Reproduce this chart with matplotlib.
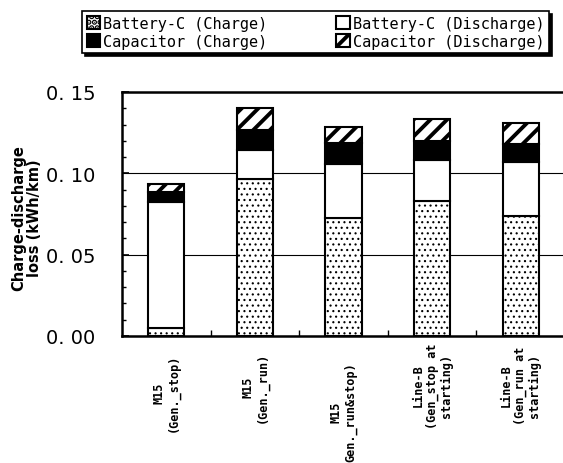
import matplotlib
matplotlib.use("Agg")
import matplotlib.pyplot as plt
import numpy as np
from matplotlib.ticker import MultipleLocator, FixedLocator

# Categories and stacked loss components (kWh/km)
categories = ["M15\n(Gen._stop)", "M15\n(Gen._run)", "M15\nGen._run&stop)",
              "Line-B\n(Gen_stop at\nstarting)", "Line-B\n(Gen_run at\nstarting)"]
label_centers = [393, 387, 412, 386, 386]  # pixel y centre of each rotated label
battery_charge = [0.005, 0.0967, 0.0723, 0.0830, 0.0735]
battery_discharge = [0.0771, 0.0176, 0.0336, 0.0252, 0.0336]
cap_charge = [0.0066, 0.0125, 0.0126, 0.0119, 0.0107]
cap_discharge = [0.0049, 0.0136, 0.0098, 0.0133, 0.0130]
yticks = [0.0, 0.05, 0.10, 0.15]
ytick_labels = ['0. 00', '0. 05', '0. 10', '0. 15']

W, H = 563, 464
fig = plt.figure(figsize=(W / 100, H / 100), dpi=100)
ax = fig.add_axes([122 / W, (H - 337) / H, 443 / W, 244 / H])

x = np.arange(len(categories))
bw = 0.41
bc = np.array(battery_charge)
bd = np.array(battery_discharge)
cc = np.array(cap_charge)
cd = np.array(cap_discharge)

plt.rcParams['hatch.linewidth'] = 0.8
b1 = ax.bar(x, bc, bw, color='white', edgecolor='black', linewidth=1.5,
            hatch='...', label='Battery-C (Charge)', zorder=3)
b2 = ax.bar(x, bd, bw, bottom=bc, color='white', edgecolor='black', linewidth=1.5,
            label='Battery-C (Discharge)', zorder=3)
b3 = ax.bar(x, cc, bw, bottom=bc + bd, color='black', edgecolor='black', linewidth=1.5,
            label='Capacitor (Charge)', zorder=3)
plt.rcParams['hatch.linewidth'] = 2.8
b4 = ax.bar(x, cd, bw, bottom=bc + bd + cc, color='white', edgecolor='black', linewidth=1.5,
            hatch='//', label='Capacitor (Discharge)', zorder=3)

ax.set_xlim(-0.5, 4.5)
ax.set_ylim(0, 0.15)
ax.set_yticks(yticks)
ax.set_yticklabels(ytick_labels, fontsize=14)
ax.yaxis.set_minor_locator(MultipleLocator(0.01))
ax.tick_params(axis='y', which='major', direction='in', length=5, width=1.2, pad=19)
ax.tick_params(axis='y', which='minor', direction='in', length=3, width=1.0)
ax.set_xticks(x)
ax.set_xticklabels([])
ax.tick_params(axis='x', which='major', length=0)
ax.xaxis.set_minor_locator(FixedLocator(x[:-1] + 0.5))
ax.tick_params(axis='x', which='minor', direction='in', length=4, width=1.0)

ax.yaxis.grid(True, which='major', color='black', linewidth=0.8, zorder=0)
ax.set_axisbelow(True)
for side in ['left', 'bottom', 'top', 'right']:
    ax.spines[side].set_linewidth(1.8)

# rotated category labels under the bars
for xi, lab, yc in zip(x, categories, label_centers):
    ax.text(xi, 1 - (yc - 93) / 244, lab, transform=ax.get_xaxis_transform(),
            rotation=90, ha='center', va='center', multialignment='center',
            fontsize=8.5, family='DejaVu Sans Mono', fontweight='bold',
            linespacing=1.1)

fig.text(27 / W, 1 - 218 / H, 'Charge-discharge\nloss (kWh/km)', rotation=90,
         ha='center', va='center', multialignment='center', fontsize=10.5,
         fontweight='bold', linespacing=1.05)

leg = fig.legend([b1, b3, b2, b4],
                 ['Battery-C (Charge)', 'Capacitor (Charge)',
                  'Battery-C (Discharge)', 'Capacitor (Discharge)'],
                 ncol=2, loc='upper left', bbox_to_anchor=(82 / W, 1 - 12 / H),
                 borderaxespad=0,
                 prop={'family': 'DejaVu Sans Mono', 'size': 11},
                 fancybox=False, edgecolor='black', framealpha=1,
                 shadow={'color': 'black', 'alpha': 1},
                 handlelength=0.9, handleheight=0.9, handletextpad=0.2,
                 columnspacing=4.5, borderpad=0.3, labelspacing=0.2)
leg.get_frame().set_linewidth(1.2)

fig.savefig('out.png', dpi=100)
